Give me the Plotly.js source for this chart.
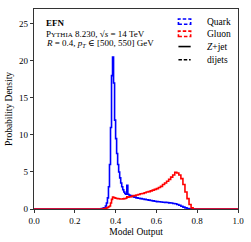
<!DOCTYPE html>
<html><head><meta charset="utf-8">
<script src="https://cdn.plot.ly/plotly-3.0.1.min.js"></script>
<style>html,body{margin:0;padding:0;background:#fff}#c{width:251px;height:242px}</style>
</head><body><div id="c"></div>
<script>
const binEdges = [0.00,0.33,0.34,0.35,
 0.355,0.36,0.365,0.37,0.375,0.38,0.385,0.39,0.395,0.40,0.405,0.41,0.415,0.42,0.425,0.43,0.435,0.44,0.445,0.45,0.455,0.46,0.465,0.47,
 0.48,0.49,0.50,0.51,0.52,0.53,0.54,0.55,0.56,0.57,0.58,0.59,0.60,0.61,0.62,0.63,0.64,0.65,0.66,0.67,0.68,0.69,0.70,0.71,0.72,0.73,0.74,0.75,0.76,0.77,0.78,
 1.00];
const quarkDensity = [0,0.05,0.15,0.4,
 0.8,1.5,3,6,11,18,20.5,17,12,9.5,7.5,6,5,4.2,3.5,3,2.6,2.3,2.1,2.0,3.2,2.0,1.9,1.8,
 1.7,1.6,1.5,1.45,1.4,1.35,1.3,1.25,1.2,1.15,1.1,1.05,1.0,0.97,0.95,0.92,0.9,0.87,0.83,0.8,0.75,0.7,0.6,0.5,0.38,0.25,0.15,0.07,0.02,0,0,
 0];
const gluonDensity = [0,0,0.05,0.1,
 0.15,0.2,0.3,0.4,0.8,1.3,1.6,1.55,1.5,1.45,1.42,1.4,1.38,1.35,1.35,1.35,1.37,1.4,1.42,1.45,1.65,1.6,1.62,1.65,
 1.75,1.8,1.9,1.95,2.05,2.1,2.2,2.3,2.35,2.45,2.55,2.65,2.75,2.9,3.05,3.3,3.5,3.75,4.0,4.3,4.6,4.95,4.85,4.6,4.1,3.3,2.3,1.4,0.6,0.15,0,
 0];
const xTicks = [0,0.2,0.4,0.6,0.8,1.0];
const xTickText = ['0.0','0.2','0.4','0.6','0.8','1.0'];
const yTicks = [0,5,10,15,20,25];
const legendLabels = ['Quark','Gluon','<i>Z</i>+jet','dijets'];

const FONT = 'Liberation Serif, DejaVu Serif, serif';
const traces = [
 {x: binEdges, y: quarkDensity, type:'scatter', mode:'lines', line:{shape:'hv', color:'#0000ff', width:1.6}, hoverinfo:'skip', showlegend:false},
 {x: binEdges, y: gluonDensity, type:'scatter', mode:'lines', line:{shape:'hv', color:'#ff0000', width:1.6}, hoverinfo:'skip', showlegend:false}
];

// manual legend
const rowsY = [25.3, 23.65, 21.93, 20.14];
const shapes = [];
const annotations = [];
const bx0 = 0.708, bx1 = 0.768, hh = 0.36;
shapes.push({type:'rect', xref:'x', yref:'y', x0:bx0, x1:bx1, y0:rowsY[0]-hh, y1:rowsY[0]+hh, line:{color:'#0000ff', width:1.6, dash:'3.5px,2px'}});
shapes.push({type:'rect', xref:'x', yref:'y', x0:bx0, x1:bx1, y0:rowsY[1]-hh, y1:rowsY[1]+hh, line:{color:'#ff0000', width:1.6, dash:'3.5px,2px'}});
shapes.push({type:'line', xref:'x', yref:'y', x0:bx0, x1:bx1, y0:rowsY[2], y1:rowsY[2], line:{color:'#000', width:1.6}});
shapes.push({type:'line', xref:'x', yref:'y', x0:bx0, x1:bx1, y0:rowsY[3], y1:rowsY[3], line:{color:'#000', width:1.6, dash:'3.5px,1.8px'}});
legendLabels.forEach((t,i)=>annotations.push({xref:'x', yref:'y', x:0.838, y:rowsY[i], text:t, showarrow:false, xanchor:'left', yanchor:'middle', font:{family:FONT, size:9.5, color:'#000'}}));

annotations.push({xref:'x', yref:'y', x:0.05, y:25.1, text:'<b>EFN</b>', showarrow:false, xanchor:'left', yanchor:'middle', font:{family:FONT, size:9, color:'#000'}});
annotations.push({xref:'x', yref:'y', x:0.05, y:23.65, text:'P<span style="font-size:7px">YTHIA</span> 8.230, √<i>s</i> = 14 TeV', showarrow:false, xanchor:'left', yanchor:'middle', font:{family:FONT, size:9, color:'#000'}});
annotations.push({xref:'x', yref:'y', x:0.05, y:22.35, text:'<i>R</i> = 0.4, <i>p</i><sub><i>T</i></sub> ∈ [500, 550] GeV', showarrow:false, xanchor:'left', yanchor:'middle', font:{family:FONT, size:9, color:'#000'}});

const layout = {
 width:251, height:242,
 margin:{l:33.5, r:12.5, t:9, b:33, pad:0},
 paper_bgcolor:'#fff', plot_bgcolor:'#fff',
 font:{family:FONT, size:9, color:'#000'},
 showlegend:false,
 xaxis:{range:[0,1], tickvals:xTicks, ticktext:xTickText, ticks:'outside', ticklen:3.5, tickwidth:0.8, tickcolor:'#000',
   showgrid:false, zeroline:false, showline:true, linecolor:'#000', linewidth:0.8, mirror:true,
   title:{text:'Model Output', font:{family:FONT, size:9.5}, standoff:3}, tickfont:{family:FONT, size:9}},
 yaxis:{range:[0,27], tickvals:yTicks, ticks:'outside', ticklen:3.5, tickwidth:0.8, tickcolor:'#000',
   showgrid:false, zeroline:false, showline:true, linecolor:'#000', linewidth:0.8, mirror:true,
   title:{text:'Probability Density', font:{family:FONT, size:9.5}, standoff:4}, tickfont:{family:FONT, size:9}},
 shapes: shapes, annotations: annotations
};
Plotly.newPlot('c', traces, layout, {staticPlot:true, displayModeBar:false});
</script></body></html>
